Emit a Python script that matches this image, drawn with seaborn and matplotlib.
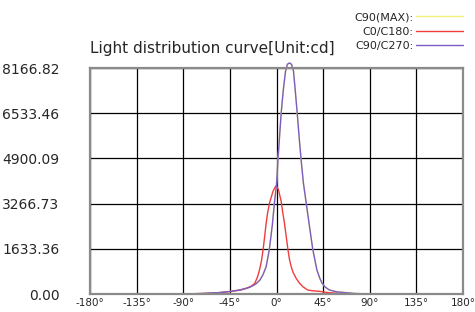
import pandas as pd
import matplotlib.pyplot as plt
import seaborn as sns

sns.set_style('white')
plt.rcParams['font.family'] = ['DejaVu Sans']
plt.rcParams['axes.unicode_minus'] = False

# C90/C270 平面（与 C90 最大值平面相同）
angles_c90 = [-90, -70, -55, -45, -35, -26, -20, -16, -13, -10, -7, -4, -2, 0, 1.5, 4.5, 6.5,
              8.7, 10.5, 12.5, 14.5, 16.4, 18, 20, 22, 24, 26, 28.7, 32, 35, 39, 42, 44,
              47, 51, 58, 67, 75, 90]
cd_c90 = [0, 20, 50, 90, 150, 240, 360, 506, 700, 987, 1590, 2500, 3300, 3950, 4900, 6533, 7350,
          8050, 8300, 8350, 8300, 8050, 7400, 6533, 5600, 4750, 4000, 3277, 2400, 1616, 867, 550, 387,
          250, 145, 80, 47, 20, 0]

# C0/C180 平面
angles_c0 = [-90, -70, -55, -45, -35, -29, -24, -21, -18.5, -16.4, -14.5, -13, -11.5, -10, -8.5,
             -6.8, -3.5, -1.5, 0, 2, 4.5, 6, 7.7, 9.4, 11, 12.5, 14.2, 16, 19, 22, 25.4, 30, 35,
             41.5, 46, 51, 60, 70, 80, 90]
cd_c0 = [0, 20, 50, 90, 140, 205, 290, 386, 600, 867, 1200, 1590, 2050, 2555, 2950,
         3277, 3697, 3850, 3920, 3750, 3350, 2950, 2555, 2071, 1616, 1250, 987, 780, 566, 400, 265, 145, 115,
         97, 70, 47, 25, 15, 5, 0]

x_ticks = [-180, -135, -90, -45, 0, 45, 90, 135, 180]
y_ticks = [0.00, 1633.36, 3266.73, 4900.09, 6533.46, 8166.82]
series_names = ['C90(MAX):', 'C0/C180:', 'C90/C270:']
series_colors = ['#f2f27a', '#f03c3c', '#7b5cc4']

df_c90 = pd.DataFrame({'angle': angles_c90, 'cd': cd_c90})
df_c0 = pd.DataFrame({'angle': angles_c0, 'cd': cd_c0})

fig = plt.figure(figsize=(4.75, 3.12), dpi=100)
ax = fig.add_axes([90 / 475, 1 - 294 / 312, 373 / 475, 226 / 312])

sns.lineplot(x='angle', y='cd', data=df_c90, ax=ax, color=series_colors[0], lw=1.6,
             label=series_names[0], clip_on=False)
sns.lineplot(x='angle', y='cd', data=df_c0, ax=ax, color=series_colors[1], lw=1,
             label=series_names[1], clip_on=False)
sns.lineplot(x='angle', y='cd', data=df_c90, ax=ax, color=series_colors[2], lw=1,
             label=series_names[2], clip_on=False)

ax.set_xlim(-180, 180)
ax.set_ylim(0, 8166.82)
ax.set_xticks(x_ticks)
ax.set_xticklabels([f'{t}°' for t in x_ticks], fontsize=7.5)
ax.set_yticks(y_ticks)
ax.set_yticklabels([f'{t:.2f}' for t in y_ticks], fontsize=10)
ax.tick_params(axis='y', length=0, pad=22)
ax.tick_params(axis='x', length=0, pad=3)
ax.grid(True, color='black', lw=0.9)
for s in ax.spines.values():
    s.set_color('#8a8a8a')
    s.set_linewidth(1.6)
ax.set_xlabel('')
ax.set_ylabel('')
ax.set_title('Light distribution curve[Unit:cd]', loc='left', fontsize=11, pad=11)

# 图例：文字在左、线条在右
ax.get_legend().remove()
h, l = ax.get_legend_handles_labels()
for hh in h:
    hh.set_linewidth(1)
fig.legend(h, l, loc='upper right', bbox_to_anchor=(463 / 475, 1 - 12 / 312),
           frameon=False, markerfirst=False, fontsize=8, handlelength=4.2,
           handletextpad=0.25, labelspacing=0.42, borderpad=0, borderaxespad=0)

plt.savefig('out.png', dpi=100)
